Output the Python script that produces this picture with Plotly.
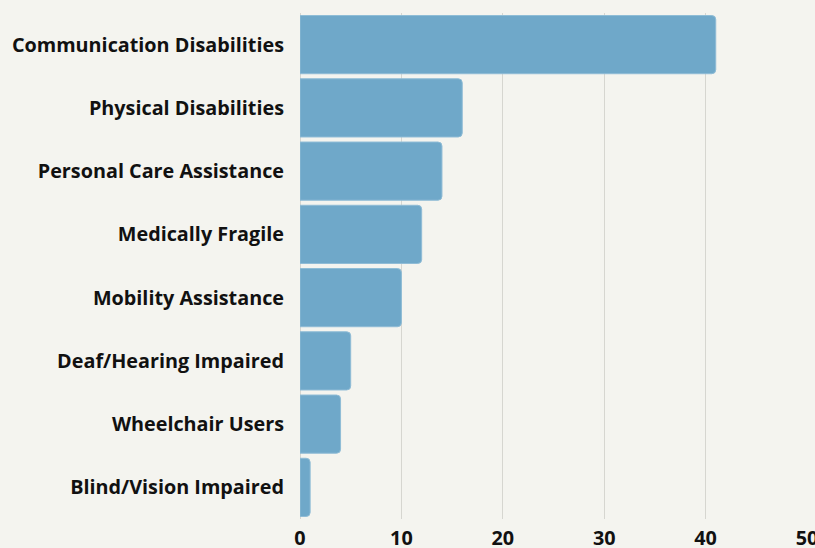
import plotly.graph_objects as go

categories = [
    "Communication Disabilities",
    "Physical Disabilities",
    "Personal Care Assistance",
    "Medically Fragile",
    "Mobility Assistance",
    "Deaf/Hearing Impaired",
    "Wheelchair Users",
    "Blind/Vision Impaired",
]
values = [41, 16, 14, 12, 10, 5, 4, 1]
x_ticks = [0, 10, 20, 30, 40, 50]

bg = "#f4f4ef"
bar_color = "#6fa8c9"
text_color = "#111111"

fig = go.Figure(
    go.Bar(
        x=values,
        y=categories,
        orientation="h",
        marker=dict(color=bar_color, line=dict(color="#8fbcd6", width=1)),
        hoverinfo="x+y",
    )
)

fig.update_layout(
    width=815,
    height=548,
    paper_bgcolor=bg,
    plot_bgcolor=bg,
    margin=dict(l=300, r=8, t=13, b=29, autoexpand=False),
    bargap=0.08,
    barcornerradius=4,
    showlegend=False,
    font=dict(family="Open Sans", size=19.8, color=text_color),
)

fig.update_xaxes(
    range=[0, 50],
    tickvals=x_ticks,
    ticktext=[str(v) for v in x_ticks],
    showgrid=True,
    gridcolor="#d6d6d0",
    gridwidth=1,
    zeroline=True,
    zerolinecolor="#d6d6d0",
    zerolinewidth=1,
    showline=False,
    automargin=False,
    ticklabeloverflow="allow",
    tickfont=dict(family="Open Sans", size=19.8, color=text_color, weight="bold"),
    ticklabelstandoff=5,
)

fig.update_yaxes(
    categoryorder="array",
    categoryarray=list(reversed(categories)),
    showgrid=False,
    showline=False,
    zeroline=False,
    automargin=False,
    tickfont=dict(family="Open Sans", size=19.8, color=text_color, weight="bold"),
    ticklabelstandoff=15,
)

fig.write_html(
    "out.html",
    config={"displayModeBar": False},
    post_script="document.body.style.margin='0';document.body.style.background='%s';document.body.style.overflow='hidden';" % bg,
)
